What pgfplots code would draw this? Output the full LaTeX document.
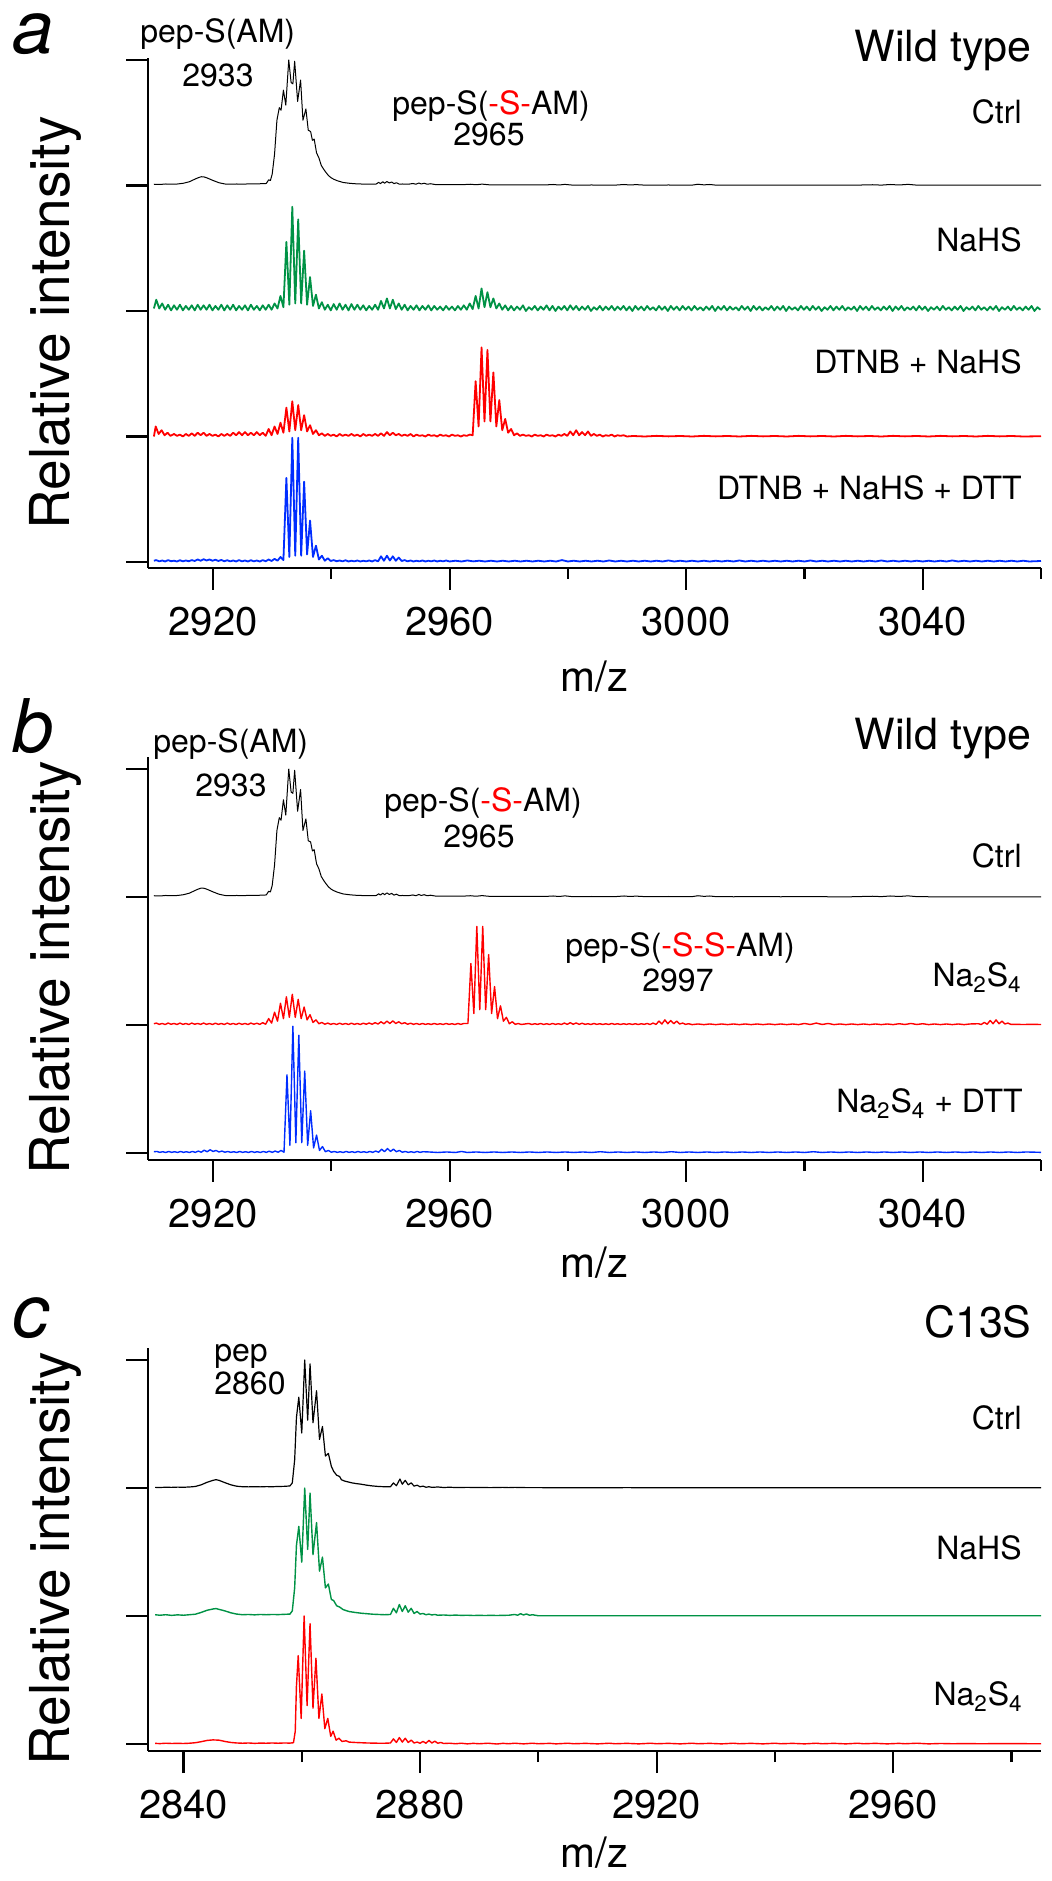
\documentclass[border=0pt]{standalone}
\usepackage{fontspec}
\setmainfont{TeX Gyre Heros}
\usepackage{pgfplots}
\usepackage{pgfplotstable}
\pgfplotsset{compat=1.18}
\definecolor{sgreen}{RGB}{0,146,69}
\definecolor{sred}{RGB}{255,0,0}
\definecolor{sblue}{RGB}{0,45,255}

% ---------- Wild type, Ctrl (panels a and b) ----------
\pgfplotstableread[row sep=\\]{
x y\\
2910 0.010\\ 2911 0.008\\ 2912 0.012\\ 2913 0.010\\ 2914 0.012\\ 2915 0.018\\ 2916 0.030\\ 2917 0.052\\ 2917.5 0.062\\ 2918 0.070\\
2918.5 0.068\\ 2919 0.060\\ 2919.5 0.050\\ 2920 0.040\\ 2921 0.022\\ 2922 0.012\\ 2923 0.010\\ 2924 0.012\\ 2925 0.010\\ 2926 0.013\\
2927 0.012\\ 2928 0.014\\ 2929 0.016\\ 2929.4 0.045\\ 2929.7 0.040\\ 2930.0 0.090\\ 2930.4 0.250\\ 2930.8 0.520\\ 2931.2 0.620\\ 2931.5 0.600\\
2931.9 0.760\\ 2932.3 0.640\\ 2932.8 1.000\\ 2933.2 0.820\\ 2933.5 0.810\\ 2933.8 0.990\\ 2934.3 0.670\\ 2934.8 0.840\\ 2935.2 0.520\\ 2935.7 0.610\\
2936.1 0.440\\ 2936.5 0.430\\ 2936.8 0.360\\ 2937.1 0.370\\ 2937.5 0.260\\ 2937.9 0.220\\ 2938.3 0.160\\ 2938.7 0.130\\ 2939.0 0.110\\ 2939.5 0.080\\
2940 0.060\\ 2940.5 0.048\\ 2941 0.038\\ 2942 0.024\\ 2943 0.018\\ 2944 0.014\\ 2945 0.012\\ 2946 0.010\\ 2947 0.010\\ 2947.6 0.012\\
2948.0 0.025\\ 2948.3 0.015\\ 2948.7 0.030\\ 2949.0 0.018\\ 2949.4 0.032\\ 2949.8 0.020\\ 2950.2 0.028\\ 2950.6 0.015\\ 2951.0 0.022\\ 2951.5 0.010\\
2952 0.012\\ 2953 0.010\\ 2953.8 0.016\\ 2954.3 0.010\\ 2954.8 0.020\\ 2955.2 0.012\\ 2955.7 0.018\\ 2956.2 0.010\\ 2956.8 0.014\\ 2957.5 0.008\\
2958 0.007\\ 2960 0.006\\ 2962 0.006\\ 2963.5 0.010\\ 2964.5 0.006\\ 2965.5 0.011\\ 2966.5 0.006\\ 2968 0.005\\ 2970 0.004\\ 2972 0.005\\
2974 0.004\\ 2976 0.004\\ 2977.5 0.008\\ 2978.5 0.004\\ 2979.5 0.009\\ 2980.5 0.004\\ 2982 0.003\\ 2984 0.004\\ 2986 0.003\\ 2988 0.003\\
2989.5 0.008\\ 2990.5 0.004\\ 2991.5 0.007\\ 2993 0.003\\ 2995 0.003\\ 2997 0.004\\ 2999 0.003\\ 3001 0.003\\ 3002 0.010\\ 3003 0.005\\
3004 0.008\\ 3005 0.003\\ 3008 0.002\\ 3012 0.003\\ 3016 0.002\\ 3020 0.003\\ 3024 0.002\\ 3028 0.002\\ 3031.5 0.006\\ 3033 0.003\\
3034.5 0.008\\ 3036 0.004\\ 3037.5 0.009\\ 3039 0.003\\ 3041 0.002\\ 3045 0.002\\ 3050 0.002\\ 3055 0.002\\ 3060 0.002\\
}\wtctrl

% ---------- Wild type, NaHS (panel a) ----------
\pgfplotstableread[row sep=\\]{
x y\\
2910.0 0.020\\ 2910.4 0.090\\ 2910.9 0.020\\ 2911.4 0.060\\ 2911.9 0.010\\ 2912.4 0.050\\ 2912.9 0.005\\ 2913.4 0.045\\ 2913.9 0.010\\ 2914.4 0.050\\
2914.9 0.005\\ 2915.4 0.040\\ 2915.9 0.010\\ 2916.4 0.045\\ 2916.9 0.005\\ 2917.4 0.050\\ 2917.9 0.010\\ 2918.4 0.045\\ 2918.9 0.010\\ 2919.4 0.050\\
2919.9 0.005\\ 2920.4 0.040\\ 2920.9 0.010\\ 2921.4 0.050\\ 2921.9 0.005\\ 2922.4 0.045\\ 2922.9 0.010\\ 2923.4 0.050\\ 2923.9 0.005\\ 2924.4 0.040\\
2924.9 0.010\\ 2925.4 0.045\\ 2925.9 0.005\\ 2926.4 0.050\\ 2926.9 0.010\\ 2927.4 0.040\\ 2927.9 0.005\\ 2928.4 0.045\\ 2928.9 0.010\\ 2929.4 0.050\\
2929.9 0.010\\ 2930.4 0.060\\ 2930.9 0.020\\ 2931.4 0.120\\ 2931.9 0.030\\ 2932.4 0.550\\ 2932.9 0.050\\ 2933.4 0.830\\ 2933.9 0.060\\ 2934.4 0.730\\
2934.9 0.060\\ 2935.4 0.480\\ 2935.9 0.050\\ 2936.4 0.270\\ 2936.9 0.040\\ 2937.4 0.130\\ 2937.9 0.020\\ 2938.4 0.070\\ 2938.9 0.010\\ 2939.4 0.050\\
2939.9 0.005\\ 2940.4 0.055\\ 2940.9 0.010\\ 2941.4 0.060\\ 2941.9 0.010\\ 2942.4 0.050\\ 2942.9 0.005\\ 2943.4 0.055\\ 2943.9 0.010\\ 2944.4 0.050\\
2944.9 0.010\\ 2945.4 0.045\\ 2945.9 0.005\\ 2946.4 0.040\\ 2946.9 0.010\\ 2947.4 0.050\\ 2947.9 0.010\\ 2948.4 0.080\\ 2948.9 0.020\\ 2949.4 0.100\\
2949.9 0.020\\ 2950.4 0.090\\ 2950.9 0.015\\ 2951.4 0.060\\ 2951.9 0.010\\ 2952.4 0.050\\ 2952.9 0.005\\ 2953.4 0.040\\ 2953.9 0.010\\ 2954.4 0.045\\
2954.9 0.005\\ 2955.4 0.040\\ 2955.9 0.010\\ 2956.4 0.045\\ 2956.9 0.005\\ 2957.4 0.040\\ 2957.9 0.010\\ 2958.4 0.035\\ 2958.9 0.005\\ 2959.4 0.040\\
2959.9 0.010\\ 2960.4 0.035\\ 2960.9 0.005\\ 2961.4 0.040\\ 2961.9 0.010\\ 2962.4 0.045\\ 2962.9 0.010\\ 2963.4 0.060\\ 2963.9 0.015\\ 2964.4 0.120\\
2964.9 0.020\\ 2965.4 0.180\\ 2965.9 0.030\\ 2966.4 0.150\\ 2966.9 0.030\\ 2967.4 0.100\\ 2967.9 0.020\\ 2968.4 0.060\\ 2968.9 0.010\\ 2969.4 0.045\\
2969.9 0.005\\ 2970.4 0.040\\ 2970.9 0.005\\ 2971.4 0.035\\ 2971.9 0.010\\ 2972.4 0.045\\ 2972.9 0.000\\ 2973.4 0.030\\ 2973.9 0.010\\ 2974.4 0.040\\
2974.9 0.005\\ 2975.4 0.035\\ 2975.9 0.010\\ 2976.4 0.045\\ 2976.9 0.005\\ 2977.4 0.040\\ 2977.9 0.000\\ 2978.4 0.035\\ 2978.9 0.010\\ 2979.4 0.040\\
2979.9 0.005\\ 2980.4 0.045\\ 2980.9 0.010\\ 2981.4 0.040\\ 2981.9 0.005\\ 2982.4 0.035\\ 2982.9 0.010\\ 2983.4 0.040\\ 2983.9 0.000\\ 2984.4 0.030\\
2984.9 0.010\\ 2985.4 0.040\\ 2985.9 0.005\\ 2986.4 0.035\\ 2986.9 0.010\\ 2987.4 0.040\\ 2987.9 0.005\\ 2988.4 0.035\\ 2988.9 0.010\\ 2989.4 0.040\\
2989.9 0.005\\ 2990.4 0.035\\ 2990.9 0.000\\ 2991.4 0.040\\ 2991.9 0.010\\ 2992.4 0.035\\ 2992.9 0.005\\ 2993.4 0.040\\ 2993.9 0.010\\ 2994.4 0.030\\
2994.9 0.005\\ 2995.4 0.040\\ 2995.9 0.010\\ 2996.4 0.035\\ 2996.9 0.000\\ 2997.4 0.040\\ 2997.9 0.010\\ 2998.4 0.035\\ 2998.9 0.005\\ 2999.4 0.040\\
2999.9 0.010\\ 3000.4 0.035\\ 3000.9 0.005\\ 3001.4 0.040\\ 3001.9 0.010\\ 3002.4 0.030\\ 3002.9 0.005\\ 3003.4 0.035\\ 3003.9 0.010\\ 3004.4 0.040\\
3004.9 0.000\\ 3005.4 0.035\\ 3005.9 0.010\\ 3006.4 0.040\\ 3006.9 0.005\\ 3007.4 0.035\\ 3007.9 0.010\\ 3008.4 0.030\\ 3008.9 0.005\\ 3009.4 0.040\\
3009.9 0.010\\ 3010.4 0.035\\ 3010.9 0.000\\ 3011.4 0.040\\ 3011.9 0.010\\ 3012.4 0.035\\ 3012.9 0.005\\ 3013.4 0.030\\ 3013.9 0.010\\ 3014.4 0.040\\
3014.9 0.005\\ 3015.4 0.035\\ 3015.9 0.010\\ 3016.4 0.040\\ 3016.9 0.000\\ 3017.4 0.035\\ 3017.9 0.010\\ 3018.4 0.030\\ 3018.9 0.005\\ 3019.4 0.040\\
3019.9 0.010\\ 3020.4 0.035\\ 3020.9 0.005\\ 3021.4 0.040\\ 3021.9 0.010\\ 3022.4 0.035\\ 3022.9 0.000\\ 3023.4 0.030\\ 3023.9 0.010\\ 3024.4 0.040\\
3024.9 0.005\\ 3025.4 0.035\\ 3025.9 0.010\\ 3026.4 0.040\\ 3026.9 0.005\\ 3027.4 0.030\\ 3027.9 0.010\\ 3028.4 0.035\\ 3028.9 0.000\\ 3029.4 0.040\\
3029.9 0.010\\ 3030.4 0.035\\ 3030.9 0.005\\ 3031.4 0.040\\ 3031.9 0.010\\ 3032.4 0.030\\ 3032.9 0.005\\ 3033.4 0.035\\ 3033.9 0.010\\ 3034.4 0.040\\
3034.9 0.000\\ 3035.4 0.035\\ 3035.9 0.010\\ 3036.4 0.040\\ 3036.9 0.005\\ 3037.4 0.030\\ 3037.9 0.010\\ 3038.4 0.035\\ 3038.9 0.005\\ 3039.4 0.040\\
3039.9 0.010\\ 3040.4 0.035\\ 3040.9 0.000\\ 3041.4 0.030\\ 3041.9 0.010\\ 3042.4 0.035\\ 3042.9 0.005\\ 3043.4 0.040\\ 3043.9 0.010\\ 3044.4 0.030\\
3044.9 0.005\\ 3045.4 0.035\\ 3045.9 0.010\\ 3046.4 0.040\\ 3046.9 0.000\\ 3047.4 0.030\\ 3047.9 0.010\\ 3048.4 0.035\\ 3048.9 0.005\\ 3049.4 0.040\\
3049.9 0.010\\ 3050.4 0.030\\ 3050.9 0.005\\ 3051.4 0.035\\ 3051.9 0.010\\ 3052.4 0.040\\ 3052.9 0.000\\ 3053.4 0.030\\ 3053.9 0.010\\ 3054.4 0.035\\
3054.9 0.005\\ 3055.4 0.040\\ 3055.9 0.010\\ 3056.4 0.030\\ 3056.9 0.005\\ 3057.4 0.035\\ 3057.9 0.010\\ 3058.4 0.040\\ 3058.9 0.000\\ 3059.4 0.030\\
3059.9 0.010\\
}\wtnahs

% ---------- Wild type, DTNB + NaHS (panel a) ----------
\pgfplotstableread[row sep=\\]{
x y\\
2910.0 0.000\\ 2910.3 0.080\\ 2910.8 0.020\\ 2911.3 0.050\\ 2911.8 0.010\\ 2912.3 0.030\\ 2912.8 0.005\\ 2913.4 0.020\\ 2913.9 0.005\\ 2914.4 0.015\\
2914.9 0.000\\ 2915.4 0.020\\ 2915.9 0.005\\ 2916.4 0.025\\ 2916.9 0.005\\ 2917.4 0.030\\ 2917.9 0.010\\ 2918.4 0.030\\ 2918.9 0.005\\ 2919.4 0.020\\
2919.9 0.005\\ 2920.4 0.015\\ 2920.9 0.000\\ 2921.4 0.020\\ 2921.9 0.005\\ 2922.4 0.020\\ 2922.9 0.005\\ 2923.4 0.030\\ 2923.9 0.010\\ 2924.4 0.035\\
2924.9 0.010\\ 2925.4 0.035\\ 2925.9 0.010\\ 2926.4 0.030\\ 2926.9 0.010\\ 2927.4 0.035\\ 2927.9 0.010\\ 2928.4 0.030\\ 2928.9 0.005\\ 2929.4 0.060\\
2929.9 0.010\\ 2930.4 0.080\\ 2930.9 0.020\\ 2931.4 0.110\\ 2931.9 0.030\\ 2932.4 0.230\\ 2932.9 0.040\\ 2933.4 0.280\\ 2933.9 0.050\\ 2934.4 0.250\\
2934.9 0.050\\ 2935.4 0.170\\ 2935.9 0.040\\ 2936.4 0.090\\ 2936.9 0.020\\ 2937.4 0.050\\ 2937.9 0.010\\ 2938.4 0.025\\ 2938.9 0.005\\ 2939.4 0.020\\
2939.9 0.005\\ 2940.4 0.015\\ 2940.9 0.000\\ 2941.4 0.020\\ 2941.9 0.005\\ 2942.4 0.015\\ 2942.9 0.005\\ 2943.4 0.020\\ 2943.9 0.005\\ 2944.4 0.015\\
2944.9 0.000\\ 2945.4 0.020\\ 2945.9 0.005\\ 2946.4 0.015\\ 2946.9 0.005\\ 2947.4 0.020\\ 2947.9 0.005\\ 2948.4 0.025\\ 2948.9 0.005\\ 2949.4 0.035\\
2949.9 0.010\\ 2950.4 0.030\\ 2950.9 0.010\\ 2951.4 0.020\\ 2951.9 0.005\\ 2952.4 0.015\\ 2952.9 0.005\\ 2953.4 0.020\\ 2953.9 0.000\\ 2954.4 0.015\\
2954.9 0.005\\ 2955.4 0.010\\ 2955.9 0.000\\ 2956.4 0.015\\ 2956.9 0.005\\ 2957.4 0.010\\ 2957.9 0.000\\ 2958.4 0.015\\ 2958.9 0.005\\ 2959.4 0.010\\
2959.9 0.000\\ 2960.4 0.015\\ 2960.9 0.005\\ 2961.4 0.010\\ 2961.9 0.000\\ 2962.4 0.010\\ 2962.9 0.005\\ 2963.4 0.015\\ 2963.9 0.010\\ 2964.4 0.440\\
2964.9 0.080\\ 2965.4 0.710\\ 2965.9 0.120\\ 2966.4 0.690\\ 2966.9 0.120\\ 2967.4 0.510\\ 2967.9 0.080\\ 2968.4 0.290\\ 2968.9 0.050\\ 2969.4 0.140\\
2969.9 0.030\\ 2970.4 0.060\\ 2970.9 0.010\\ 2971.4 0.025\\ 2971.9 0.005\\ 2972.4 0.015\\ 2972.9 0.005\\ 2973.4 0.010\\ 2973.9 0.000\\ 2974.4 0.015\\
2974.9 0.005\\ 2975.4 0.010\\ 2975.9 0.000\\ 2976.4 0.015\\ 2976.9 0.005\\ 2977.4 0.010\\ 2977.9 0.000\\ 2978.4 0.015\\ 2978.9 0.005\\ 2979.4 0.020\\
2979.9 0.005\\ 2980.4 0.040\\ 2980.9 0.010\\ 2981.4 0.050\\ 2981.9 0.010\\ 2982.4 0.035\\ 2982.9 0.010\\ 2983.4 0.040\\ 2983.9 0.005\\ 2984.4 0.020\\
2984.9 0.005\\ 2985.4 0.015\\ 2985.9 0.000\\ 2986.4 0.010\\ 2986.9 0.005\\ 2987.4 0.015\\ 2987.9 0.000\\ 2988.4 0.010\\ 2988.9 0.005\\ 2989.4 0.010\\
2990 0.000\\ 2991 0.004\\ 2993 0.000\\ 2995 0.005\\ 2997 0.001\\ 2999 0.004\\ 3001 0.000\\ 3003 0.005\\ 3005 0.001\\ 3007 0.004\\
3009 0.000\\ 3011 0.005\\ 3013 0.001\\ 3015 0.004\\ 3017 0.000\\ 3019 0.005\\ 3021 0.001\\ 3023 0.004\\ 3025 0.000\\ 3027 0.005\\
3029 0.001\\ 3031 0.004\\ 3033 0.000\\ 3035 0.005\\ 3037 0.001\\ 3039 0.004\\ 3041 0.000\\ 3043 0.005\\ 3045 0.001\\ 3047 0.004\\
3049 0.000\\ 3051 0.005\\ 3053 0.001\\ 3055 0.004\\ 3057 0.000\\ 3060 0.002\\
}\wtdtnb

% ---------- Wild type, DTNB + NaHS + DTT (panel a) ----------
\pgfplotstableread[row sep=\\]{
x y\\
2910.0 0.010\\ 2910.4 0.015\\ 2910.9 0.005\\ 2911.4 0.012\\ 2911.9 0.004\\ 2912.4 0.015\\ 2912.9 0.006\\ 2913.4 0.010\\ 2913.9 0.004\\ 2914.4 0.014\\
2914.9 0.005\\ 2915.4 0.012\\ 2915.9 0.006\\ 2916.4 0.015\\ 2916.9 0.008\\ 2917.4 0.020\\ 2917.9 0.010\\ 2918.4 0.022\\ 2918.9 0.012\\ 2919.4 0.020\\
2919.9 0.010\\ 2920.4 0.018\\ 2920.9 0.008\\ 2921.4 0.016\\ 2921.9 0.006\\ 2922.4 0.014\\ 2922.9 0.005\\ 2923.4 0.012\\ 2923.9 0.004\\ 2924.4 0.015\\
2924.9 0.005\\ 2925.4 0.012\\ 2925.9 0.004\\ 2926.4 0.014\\ 2926.9 0.005\\ 2927.4 0.012\\ 2927.9 0.004\\ 2928.4 0.015\\ 2928.9 0.006\\ 2929.4 0.020\\
2929.9 0.008\\ 2930.4 0.025\\ 2930.9 0.010\\ 2931.4 0.040\\ 2931.9 0.015\\ 2932.4 0.670\\ 2932.9 0.040\\ 2933.4 0.990\\ 2933.9 0.050\\ 2934.4 0.990\\
2934.9 0.050\\ 2935.4 0.640\\ 2935.9 0.060\\ 2936.4 0.330\\ 2936.9 0.040\\ 2937.4 0.130\\ 2937.9 0.020\\ 2938.4 0.050\\ 2938.9 0.010\\ 2939.4 0.030\\
2939.9 0.008\\ 2940.4 0.015\\ 2940.9 0.006\\ 2941.4 0.012\\ 2941.9 0.005\\ 2942.4 0.014\\ 2942.9 0.004\\ 2943.4 0.010\\ 2943.9 0.005\\ 2944.4 0.012\\
2944.9 0.004\\ 2945.4 0.010\\ 2945.9 0.005\\ 2946.4 0.012\\ 2946.9 0.004\\ 2947.4 0.015\\ 2947.9 0.005\\ 2948.4 0.045\\ 2948.9 0.010\\ 2949.4 0.050\\
2949.9 0.012\\ 2950.4 0.045\\ 2950.9 0.010\\ 2951.4 0.035\\ 2951.9 0.008\\ 2952.4 0.015\\ 2952.9 0.005\\ 2953.4 0.012\\ 2953.9 0.004\\ 2954.4 0.010\\
2954.9 0.005\\ 2955.4 0.012\\ 2955.9 0.004\\ 2956.4 0.010\\ 2956.9 0.005\\ 2957.4 0.012\\ 2957.9 0.004\\ 2958.4 0.010\\ 2958.9 0.005\\ 2959.4 0.012\\
2960 0.004\\ 2961 0.010\\ 2962 0.004\\ 2963 0.012\\ 2964 0.005\\ 2965 0.010\\ 2966 0.004\\ 2967 0.010\\ 2968 0.004\\ 2969 0.010\\
2970 0.004\\ 2971 0.010\\ 2972 0.004\\ 2973 0.010\\ 2974 0.004\\ 2975 0.010\\ 2976 0.004\\ 2977 0.010\\ 2978 0.004\\ 2979 0.015\\
2980 0.004\\ 2981 0.010\\ 2982 0.004\\ 2983 0.010\\ 2984 0.004\\ 2985 0.010\\ 2986 0.004\\ 2987 0.012\\ 2988 0.004\\ 2989 0.010\\
2990 0.004\\ 2991 0.010\\ 2992 0.004\\ 2993 0.010\\ 2994 0.004\\ 2995 0.010\\ 2996 0.004\\ 2997 0.012\\ 2998 0.004\\ 2999 0.010\\
3000 0.004\\ 3001 0.010\\ 3002 0.004\\ 3003 0.010\\ 3004 0.004\\ 3005 0.010\\ 3006 0.004\\ 3007 0.010\\ 3008 0.004\\ 3009 0.012\\
3010 0.004\\ 3011 0.010\\ 3012 0.004\\ 3013 0.010\\ 3014 0.004\\ 3015 0.010\\ 3016 0.004\\ 3017 0.010\\ 3018 0.004\\ 3019 0.010\\
3020 0.004\\ 3021 0.012\\ 3022 0.004\\ 3023 0.010\\ 3024 0.004\\ 3025 0.010\\ 3026 0.004\\ 3027 0.010\\ 3028 0.004\\ 3029 0.010\\
3030 0.004\\ 3031 0.010\\ 3032 0.004\\ 3033 0.012\\ 3034 0.004\\ 3035 0.010\\ 3036 0.004\\ 3037 0.010\\ 3038 0.004\\ 3039 0.010\\
3040 0.004\\ 3041 0.010\\ 3042 0.004\\ 3043 0.010\\ 3044 0.004\\ 3045 0.012\\ 3046 0.004\\ 3047 0.010\\ 3048 0.004\\ 3049 0.010\\
3050 0.004\\ 3051 0.010\\ 3052 0.004\\ 3053 0.010\\ 3054 0.004\\ 3055 0.010\\ 3056 0.004\\ 3057 0.010\\ 3058 0.004\\ 3060 0.008\\
}\wtdtt

% ---------- Wild type, Na2S4 (panel b) ----------
\pgfplotstableread[row sep=\\]{
x y\\
2910.0 0.010\\ 2910.4 0.015\\ 2910.9 0.005\\ 2911.4 0.012\\ 2911.9 0.004\\ 2912.4 0.015\\ 2912.9 0.006\\ 2913.4 0.012\\ 2913.9 0.004\\ 2914.4 0.015\\
2914.9 0.005\\ 2915.4 0.012\\ 2915.9 0.004\\ 2916.4 0.015\\ 2916.9 0.006\\ 2917.4 0.012\\ 2917.9 0.005\\ 2918.4 0.015\\ 2918.9 0.005\\ 2919.4 0.012\\
2919.9 0.004\\ 2920.4 0.014\\ 2920.9 0.005\\ 2921.4 0.012\\ 2921.9 0.004\\ 2922.4 0.015\\ 2922.9 0.005\\ 2923.4 0.012\\ 2923.9 0.004\\ 2924.4 0.014\\
2924.9 0.005\\ 2925.4 0.012\\ 2925.9 0.004\\ 2926.4 0.015\\ 2926.9 0.006\\ 2927.4 0.014\\ 2927.9 0.005\\ 2928.4 0.018\\ 2928.9 0.006\\ 2929.4 0.050\\
2929.9 0.015\\ 2930.4 0.100\\ 2930.9 0.030\\ 2931.4 0.170\\ 2931.9 0.050\\ 2932.4 0.220\\ 2932.9 0.060\\ 2933.4 0.240\\ 2933.9 0.060\\ 2934.4 0.200\\
2934.9 0.050\\ 2935.4 0.140\\ 2935.9 0.040\\ 2936.4 0.080\\ 2936.9 0.020\\ 2937.4 0.040\\ 2937.9 0.010\\ 2938.4 0.020\\ 2938.9 0.006\\ 2939.4 0.015\\
2939.9 0.005\\ 2940.4 0.012\\ 2940.9 0.004\\ 2941.4 0.014\\ 2941.9 0.005\\ 2942.4 0.012\\ 2942.9 0.004\\ 2943.4 0.014\\ 2943.9 0.005\\ 2944.4 0.012\\
2944.9 0.004\\ 2945.4 0.014\\ 2945.9 0.006\\ 2946.4 0.016\\ 2946.9 0.006\\ 2947.4 0.018\\ 2947.9 0.008\\ 2948.4 0.025\\ 2948.9 0.010\\ 2949.4 0.030\\
2949.9 0.012\\ 2950.4 0.032\\ 2950.9 0.012\\ 2951.4 0.025\\ 2951.9 0.010\\ 2952.4 0.018\\ 2952.9 0.006\\ 2953.4 0.014\\ 2953.9 0.005\\ 2954.4 0.012\\
2954.9 0.004\\ 2955.4 0.012\\ 2955.9 0.005\\ 2956.4 0.010\\ 2956.9 0.004\\ 2957.4 0.012\\ 2957.9 0.005\\ 2958.4 0.010\\ 2958.9 0.004\\ 2959.4 0.012\\
2959.9 0.005\\ 2960.4 0.010\\ 2960.9 0.004\\ 2961.4 0.012\\ 2961.9 0.005\\ 2962.4 0.012\\ 2963.1 0.012\\ 2963.6 0.480\\ 2964.1 0.090\\ 2964.6 0.770\\
2965.1 0.120\\ 2965.6 0.770\\ 2966.1 0.120\\ 2966.6 0.550\\ 2967.1 0.090\\ 2967.6 0.300\\ 2968.1 0.050\\ 2968.6 0.150\\ 2969.1 0.030\\ 2969.6 0.060\\
2970.1 0.010\\ 2970.6 0.025\\ 2971.1 0.005\\ 2971.6 0.012\\ 2972.1 0.004\\ 2973.4 0.012\\ 2973.9 0.004\\ 2974.4 0.010\\ 2974.9 0.005\\ 2975.4 0.012\\
2975.9 0.004\\ 2976.4 0.010\\ 2976.9 0.004\\ 2977.4 0.012\\ 2977.9 0.005\\ 2978.4 0.010\\ 2978.9 0.004\\ 2979.4 0.015\\ 2979.9 0.005\\ 2980.4 0.018\\
2980.9 0.006\\ 2981.4 0.016\\ 2981.9 0.005\\ 2982.4 0.014\\ 2982.9 0.005\\ 2983.4 0.010\\ 2983.9 0.004\\ 2984.4 0.012\\ 2984.9 0.005\\ 2985.4 0.010\\
2985.9 0.004\\ 2986.4 0.010\\ 2986.9 0.004\\ 2987.4 0.012\\ 2987.9 0.005\\ 2988.4 0.010\\ 2988.9 0.004\\ 2989.4 0.010\\ 2989.9 0.005\\ 2990.4 0.010\\
2990.9 0.004\\ 2991.4 0.010\\ 2991.9 0.004\\ 2992.4 0.010\\ 2992.9 0.005\\ 2993.4 0.012\\ 2993.9 0.004\\ 2994.4 0.015\\ 2994.9 0.005\\ 2995.4 0.030\\
2995.9 0.008\\ 2996.4 0.040\\ 2996.9 0.010\\ 2997.4 0.035\\ 2997.9 0.010\\ 2998.4 0.030\\ 2998.9 0.008\\ 2999.4 0.015\\ 2999.9 0.005\\ 3000.4 0.010\\
3001 0.003\\ 3002 0.008\\ 3003 0.003\\ 3004 0.008\\ 3005 0.003\\ 3006 0.008\\ 3007 0.003\\ 3008 0.008\\ 3009 0.003\\ 3010 0.008\\
3011 0.003\\ 3012 0.008\\ 3013 0.003\\ 3014 0.008\\ 3015 0.003\\ 3016 0.008\\ 3017 0.003\\ 3018 0.008\\ 3019 0.003\\ 3020 0.012\\
3021 0.004\\ 3022 0.015\\ 3023 0.004\\ 3024 0.012\\ 3025 0.003\\ 3026 0.008\\ 3027 0.003\\ 3028 0.008\\ 3029 0.003\\ 3030 0.008\\
3031 0.003\\ 3032 0.008\\ 3033 0.003\\ 3034 0.008\\ 3035 0.003\\ 3036 0.010\\ 3037 0.004\\ 3038 0.012\\ 3039 0.004\\ 3040 0.010\\
3041 0.003\\ 3042 0.008\\ 3043 0.003\\ 3044 0.008\\ 3045 0.003\\ 3046 0.008\\ 3047 0.003\\ 3048 0.008\\ 3049.4 0.010\\ 3049.9 0.004\\
3050.4 0.020\\ 3050.9 0.006\\ 3051.4 0.035\\ 3051.9 0.010\\ 3052.4 0.040\\ 3052.9 0.010\\ 3053.4 0.030\\ 3053.9 0.008\\ 3054.4 0.015\\ 3054.9 0.005\\
3055.5 0.005\\ 3057 0.004\\ 3058.5 0.005\\ 3060 0.004\\
}\wtnass

% ---------- Wild type, Na2S4 + DTT (panel b) ----------
\pgfplotstableread[row sep=\\]{
x y\\
2910.0 0.010\\ 2910.5 0.012\\ 2911.0 0.005\\ 2911.5 0.010\\ 2912.0 0.004\\ 2912.5 0.012\\ 2913.0 0.005\\ 2913.5 0.010\\ 2914.0 0.004\\ 2914.5 0.012\\
2915.0 0.005\\ 2915.5 0.010\\ 2916.0 0.004\\ 2916.5 0.012\\ 2917.0 0.005\\ 2917.5 0.015\\ 2918.0 0.006\\ 2918.5 0.022\\ 2919.0 0.010\\ 2919.5 0.025\\
2920.0 0.012\\ 2920.5 0.020\\ 2921.0 0.008\\ 2921.5 0.015\\ 2922.0 0.006\\ 2922.5 0.012\\ 2923.0 0.005\\ 2923.5 0.010\\ 2924.0 0.004\\ 2924.5 0.012\\
2925.0 0.005\\ 2925.5 0.010\\ 2926.0 0.004\\ 2926.5 0.012\\ 2927.0 0.005\\ 2927.5 0.010\\ 2928.0 0.004\\ 2928.5 0.012\\ 2929.0 0.005\\ 2929.5 0.014\\
2930.0 0.005\\ 2930.5 0.015\\ 2931.0 0.006\\ 2931.5 0.020\\ 2932.0 0.006\\ 2932.5 0.610\\ 2933.0 0.060\\ 2933.5 0.990\\ 2934.0 0.080\\ 2934.5 0.920\\
2935.0 0.080\\ 2935.5 0.640\\ 2936.0 0.060\\ 2936.5 0.330\\ 2937.0 0.040\\ 2937.5 0.140\\ 2938.0 0.020\\ 2938.5 0.050\\ 2939.0 0.010\\ 2939.5 0.020\\
2940.0 0.006\\ 2940.5 0.012\\ 2941.0 0.005\\ 2941.5 0.010\\ 2942.0 0.004\\ 2942.5 0.012\\ 2943.0 0.005\\ 2943.5 0.010\\ 2944.0 0.004\\ 2944.5 0.012\\
2945.0 0.005\\ 2945.5 0.010\\ 2946.0 0.004\\ 2946.5 0.012\\ 2947.0 0.005\\ 2947.5 0.015\\ 2948.0 0.006\\ 2948.5 0.030\\ 2949.0 0.010\\ 2949.5 0.035\\
2950.0 0.012\\ 2950.5 0.030\\ 2951.0 0.010\\ 2951.5 0.020\\ 2952.0 0.006\\ 2952.5 0.012\\ 2953.0 0.005\\ 2953.5 0.010\\ 2954.0 0.004\\ 2954.5 0.012\\
2955.0 0.005\\ 2955.5 0.010\\ 2956.5 0.008\\ 2958 0.004\\ 2959.5 0.008\\ 2961 0.004\\ 2962 0.012\\ 2963 0.004\\ 2964.5 0.008\\ 2966 0.004\\
2967.5 0.008\\ 2969 0.004\\ 2970.5 0.008\\ 2972 0.004\\ 2973.5 0.008\\ 2975 0.004\\ 2976.5 0.008\\ 2978 0.004\\ 2979.5 0.008\\ 2981 0.004\\
2982.5 0.008\\ 2984 0.004\\ 2985.5 0.010\\ 2987 0.004\\ 2988.5 0.008\\ 2990 0.004\\ 2991.5 0.008\\ 2993 0.004\\ 2994.5 0.008\\ 2996 0.004\\
2997.5 0.010\\ 2999 0.004\\ 3000.5 0.008\\ 3002 0.004\\ 3003.5 0.008\\ 3005 0.004\\ 3006.5 0.008\\ 3008 0.004\\ 3009.5 0.008\\ 3011 0.004\\
3012.5 0.008\\ 3014 0.004\\ 3015.5 0.008\\ 3017 0.004\\ 3018.5 0.008\\ 3020 0.004\\ 3021.5 0.010\\ 3023 0.004\\ 3024.5 0.008\\ 3026 0.004\\
3027.5 0.008\\ 3029 0.004\\ 3030.5 0.008\\ 3032 0.004\\ 3033.5 0.008\\ 3035 0.004\\ 3036.5 0.008\\ 3038 0.004\\ 3039.5 0.008\\ 3041 0.004\\
3042.5 0.008\\ 3044 0.004\\ 3045.5 0.008\\ 3047 0.004\\ 3048.5 0.008\\ 3050 0.004\\ 3051.5 0.008\\ 3053 0.004\\ 3054.5 0.008\\ 3056 0.004\\
3057.5 0.008\\ 3060 0.005\\
}\wtnassdtt

% ---------- C13S, Ctrl (panel c) ----------
\pgfplotstableread[row sep=\\]{
x y\\
2835.2 0.005\\ 2836 0.004\\ 2837 0.006\\ 2838 0.005\\ 2839 0.007\\ 2840 0.006\\ 2841 0.008\\ 2842 0.012\\ 2843 0.025\\ 2844 0.045\\
2845 0.060\\ 2845.5 0.065\\ 2846 0.060\\ 2847 0.042\\ 2848 0.025\\ 2849 0.014\\ 2850 0.010\\ 2851 0.009\\ 2852 0.010\\ 2853 0.009\\
2854 0.011\\ 2855 0.010\\ 2856 0.012\\ 2857 0.013\\ 2858 0.016\\ 2858.4 0.040\\ 2858.8 0.220\\ 2859.1 0.550\\ 2859.5 0.710\\ 2860.0 0.430\\
2860.5 1.000\\ 2861.0 0.530\\ 2861.4 0.970\\ 2861.9 0.510\\ 2862.5 0.760\\ 2863.0 0.380\\ 2863.5 0.480\\ 2864.0 0.250\\ 2864.5 0.270\\ 2865.0 0.170\\
2865.4 0.130\\ 2865.9 0.100\\ 2866.4 0.090\\ 2866.7 0.065\\ 2867.2 0.055\\ 2867.8 0.048\\ 2868.5 0.040\\ 2869.3 0.034\\ 2870 0.030\\ 2871 0.022\\
2872 0.016\\ 2873 0.012\\ 2874 0.010\\ 2875 0.010\\ 2875.5 0.040\\ 2876 0.018\\ 2876.6 0.070\\ 2877 0.030\\ 2877.5 0.060\\ 2878 0.025\\
2878.5 0.040\\ 2879 0.015\\ 2879.5 0.022\\ 2880 0.010\\ 2880.5 0.015\\ 2881 0.006\\ 2881.5 0.010\\ 2882 0.005\\ 2883 0.008\\ 2884 0.004\\
2885 0.006\\ 2886 0.004\\ 2888 0.005\\ 2890 0.004\\ 2892 0.003\\ 2894 0.005\\ 2895 0.003\\ 2896 0.005\\ 2898 0.003\\ 2900 0.003\\
2905 0.002\\ 2910 0.002\\ 2915 0.003\\ 2920 0.002\\ 2930 0.002\\ 2940 0.002\\ 2950 0.002\\ 2960 0.002\\ 2970 0.002\\ 2985 0.002\\
}\cctrl

% ---------- C13S, NaHS (panel c) ----------
\pgfplotstableread[row sep=\\]{
x y\\
2835.2 0.010\\ 2836 0.006\\ 2837 0.010\\ 2838 0.005\\ 2839 0.009\\ 2840 0.006\\ 2841 0.010\\ 2842 0.014\\ 2843 0.028\\ 2844 0.045\\
2845 0.055\\ 2845.5 0.058\\ 2846 0.052\\ 2847 0.040\\ 2848 0.025\\ 2849 0.015\\ 2850 0.010\\ 2851 0.012\\ 2852 0.009\\ 2853 0.012\\
2854 0.010\\ 2855 0.012\\ 2856 0.011\\ 2857 0.013\\ 2858 0.015\\ 2858.4 0.040\\ 2858.8 0.220\\ 2859.1 0.550\\ 2859.5 0.700\\ 2860.0 0.420\\
2860.5 1.000\\ 2861.0 0.520\\ 2861.4 0.960\\ 2861.9 0.480\\ 2862.5 0.730\\ 2863.0 0.350\\ 2863.5 0.460\\ 2864.0 0.220\\ 2864.5 0.250\\ 2865.0 0.130\\
2865.4 0.120\\ 2865.9 0.080\\ 2866.4 0.070\\ 2867 0.050\\ 2868 0.035\\ 2869 0.028\\ 2870 0.022\\ 2871 0.018\\ 2872 0.014\\ 2873 0.012\\
2874 0.010\\ 2875 0.012\\ 2875.5 0.060\\ 2876 0.025\\ 2876.5 0.090\\ 2877 0.035\\ 2877.5 0.080\\ 2878 0.030\\ 2878.5 0.060\\ 2879 0.020\\
2879.5 0.035\\ 2880 0.015\\ 2880.5 0.020\\ 2881 0.010\\ 2881.5 0.015\\ 2882 0.008\\ 2882.5 0.012\\ 2883 0.006\\ 2884 0.008\\ 2885 0.005\\
2886 0.007\\ 2887 0.005\\ 2888 0.006\\ 2889 0.004\\ 2890 0.005\\ 2891 0.004\\ 2892 0.005\\ 2893 0.004\\ 2894 0.005\\ 2895 0.006\\
2896 0.012\\ 2896.5 0.006\\ 2897 0.018\\ 2897.5 0.008\\ 2898 0.016\\ 2898.5 0.006\\ 2899 0.010\\ 2900 0.002\\ 2985 0.002\\
}\cnahs

% ---------- C13S, Na2S4 (panel c) ----------
\pgfplotstableread[row sep=\\]{
x y\\
2835.2 0.005\\ 2836 0.003\\ 2837 0.006\\ 2838 0.004\\ 2839 0.005\\ 2840 0.004\\ 2841 0.006\\ 2842 0.010\\ 2843 0.018\\ 2844 0.028\\
2845 0.032\\ 2846 0.030\\ 2847 0.020\\ 2848 0.012\\ 2849 0.008\\ 2850 0.006\\ 2851 0.008\\ 2852 0.005\\ 2853 0.007\\ 2854 0.006\\
2855 0.008\\ 2856 0.006\\ 2857 0.008\\ 2858 0.007\\ 2858.6 0.010\\ 2858.9 0.100\\ 2859.1 0.450\\ 2859.4 0.690\\ 2859.9 0.200\\ 2860.4 1.000\\
2860.9 0.300\\ 2861.4 0.940\\ 2861.9 0.280\\ 2862.4 0.670\\ 2862.9 0.200\\ 2863.4 0.390\\ 2863.9 0.120\\ 2864.4 0.200\\ 2864.9 0.060\\ 2865.3 0.100\\
2865.8 0.030\\ 2866.3 0.045\\ 2866.8 0.020\\ 2867.5 0.025\\ 2868 0.015\\ 2869 0.012\\ 2870 0.010\\ 2871 0.008\\ 2872 0.007\\ 2873 0.006\\
2874 0.006\\ 2875 0.008\\ 2875.5 0.040\\ 2876 0.012\\ 2876.5 0.050\\ 2877 0.015\\ 2877.5 0.045\\ 2878 0.012\\ 2878.5 0.030\\ 2879 0.008\\
2879.5 0.015\\ 2880 0.006\\ 2880.5 0.020\\ 2881 0.006\\ 2881.5 0.028\\ 2882 0.008\\ 2882.5 0.022\\ 2883 0.006\\ 2883.5 0.012\\ 2884 0.004\\
2885 0.006\\ 2886 0.002\\ 2887 0.006\\ 2888 0.001\\ 2889 0.005\\ 2890 0.002\\ 2891.5 0.006\\ 2893 0.000\\ 2894 0.005\\ 2895 0.002\\
2896 0.006\\ 2897.5 0.001\\ 2899 0.006\\ 2900 0.002\\ 2902 0.005\\ 2903 0.001\\ 2905 0.006\\ 2906 0.002\\ 2908 0.005\\ 2910 0.001\\
2912 0.006\\ 2913 0.002\\ 2915 0.005\\ 2917 0.001\\ 2919 0.006\\ 2920 0.002\\ 2922 0.005\\ 2924 0.001\\ 2926 0.006\\ 2927 0.002\\
2929 0.005\\ 2931 0.001\\ 2933 0.006\\ 2934 0.002\\ 2936 0.005\\ 2938 0.001\\ 2940 0.006\\ 2941 0.002\\ 2943 0.005\\ 2945 0.001\\
2947 0.006\\ 2948 0.002\\ 2950 0.005\\ 2952 0.001\\ 2954 0.006\\ 2955 0.002\\ 2957 0.005\\ 2959 0.001\\ 2961 0.005\\ 2962 0.002\\
2964 0.006\\ 2966 0.001\\ 2968 0.004\\ 2970 0.002\\ 2972 0.003\\ 2975 0.002\\ 2978 0.003\\ 2985 0.002\\
}\cnass

\pgfplotsset{
  spec/.style={
    scale only axis, width=446.5pt, anchor=south west,
    axis x line*=bottom, axis y line*=left,
    axis line style={line width=1.1pt,-},
    tick style={line width=1.1pt, black},
    tick align=outside,
    major tick length=11pt, minor tick length=5.5pt,
    yticklabels={},
    xticklabel style={font=\fontsize{20}{24}\selectfont, inner sep=0pt, anchor=north, yshift=-8.5pt},
    /pgf/number format/1000 sep={},
    /pgf/number format/assume math mode=true,
    scaled x ticks=false,
    every axis plot/.append style={line join=round, no markers},
  }
}
\tikzset{
  ann/.style={font=\fontsize{16}{19}\selectfont, inner sep=0pt},
  big/.style={font=\fontsize{21.5}{25}\selectfont, inner sep=0pt},
  plet/.style={font=\fontsize{37}{44}\selectfont\itshape, inner sep=0pt},
  ylab/.style={font=\fontsize{27.5}{32}\selectfont, inner sep=0pt, rotate=90, anchor=base},
  xlab/.style={font=\fontsize{21}{25}\selectfont, inner sep=0pt, anchor=base},
}

\begin{document}
\begin{tikzpicture}[x=0.5pt,y=0.5pt]
\useasboundingbox (0,0) rectangle (1051,1881);

% ================= panel a =================
\begin{axis}[spec, at={(74pt,656.5pt)}, height=255pt,
  xmin=2909, xmax=3060, ymin=-0.0478, ymax=4.016,
  ytick={0,1,2,3,4},
  xtick={2920,2960,3000,3040}, minor xtick={2940,2980,3020,3060}]
\addplot[black, line width=0.5pt] table[x=x, y expr=\thisrow{y}+3] {\wtctrl};
\addplot[sgreen, line width=0.9pt] table[x=x, y expr=\thisrow{y}+2] {\wtnahs};
\addplot[sred, line width=0.9pt] table[x=x, y expr=\thisrow{y}+1] {\wtdtnb};
\addplot[sblue, line width=0.9pt] table[x=x, y expr=\thisrow{y}] {\wtdtt};
\end{axis}
\node[plet, anchor=base west] at (12,1827) {a};
\node[ann, anchor=base west] at (140,1838) {pep-S(AM)};
\node[ann, anchor=base west] at (182,1794) {2933};
\node[ann, anchor=base west] at (392,1766) {pep-S(\textcolor{sred}{-S-}AM)};
\node[ann, anchor=base west] at (453,1735) {2965};
\node[big, anchor=base east] at (1032,1819) {Wild type};
\node[ann, anchor=base east] at (1022,1757) {Ctrl};
\node[ann, anchor=base east] at (1022,1629) {NaHS};
\node[ann, anchor=base east] at (1022,1507) {DTNB + NaHS};
\node[ann, anchor=base east] at (1022,1381) {DTNB + NaHS + DTT};
\node[ylab] at (70,1558) {Relative intensity};
\node[xlab] at (594.5,1189) {m/z};

% ================= panel b =================
\begin{axis}[spec, at={(74pt,360.5pt)}, height=201.5pt,
  xmin=2909, xmax=3060, ymin=-0.0547, ymax=3.094,
  ytick={0,1,2,3},
  xtick={2920,2960,3000,3040}, minor xtick={2940,2980,3020,3060}]
\addplot[black, line width=0.5pt] table[x=x, y expr=\thisrow{y}+2] {\wtctrl};
\addplot[sred, line width=0.7pt] table[x=x, y expr=\thisrow{y}+1] {\wtnass};
\addplot[sblue, line width=0.7pt] table[x=x, y expr=\thisrow{y}] {\wtnassdtt};
\end{axis}
\node[plet, anchor=base west] at (12,1128) {b};
\node[ann, anchor=base west] at (153,1128) {pep-S(AM)};
\node[ann, anchor=base west] at (195,1084) {2933};
\node[ann, anchor=base west] at (384,1069) {pep-S(\textcolor{sred}{-S-}AM)};
\node[ann, anchor=base west] at (443,1033) {2965};
\node[big, anchor=base east] at (1032,1131) {Wild type};
\node[ann, anchor=base east] at (1022,1013) {Ctrl};
\node[ann, anchor=base west] at (565,924) {pep-S(\textcolor{sred}{-S-S-}AM)};
\node[ann, anchor=base west] at (642,889) {2997};
\node[ann, anchor=base east] at (1022,894) {Na\textsubscript{2}S\textsubscript{4}};
\node[ann, anchor=base east] at (1023,768) {Na\textsubscript{2}S\textsubscript{4} + DTT};
\node[ylab] at (70,913) {Relative intensity};
\node[xlab] at (594.5,603) {m/z};

% ================= panel c =================
\begin{axis}[spec, at={(74pt,65pt)}, height=201.5pt,
  xmin=2834, xmax=2985, ymin=-0.0547, ymax=3.094,
  ytick={0,1,2,3},
  xtick={2840,2880,2920,2960}, minor xtick={2860,2900,2940,2980}]
\addplot[black, line width=0.6pt] table[x=x, y expr=\thisrow{y}+2] {\cctrl};
\addplot[sgreen, line width=0.7pt] table[x=x, y expr=\thisrow{y}+1] {\cnahs};
\addplot[sred, line width=0.7pt] table[x=x, y expr=\thisrow{y}] {\cnass};
\end{axis}
\node[plet, anchor=base west] at (12,543) {c};
\node[big, anchor=base east] at (1032,543) {C13S};
\node[ann, anchor=base west] at (214,519) {pep};
\node[ann, anchor=base west] at (214,486) {2860};
\node[ann, anchor=base east] at (1022,451) {Ctrl};
\node[ann, anchor=base east] at (1022,321) {NaHS};
\node[ann, anchor=base east] at (1023,175) {Na\textsubscript{2}S\textsubscript{4}};
\node[ylab] at (70,322) {Relative intensity};
\node[xlab] at (594.5,13) {m/z};
\end{tikzpicture}
\end{document}
